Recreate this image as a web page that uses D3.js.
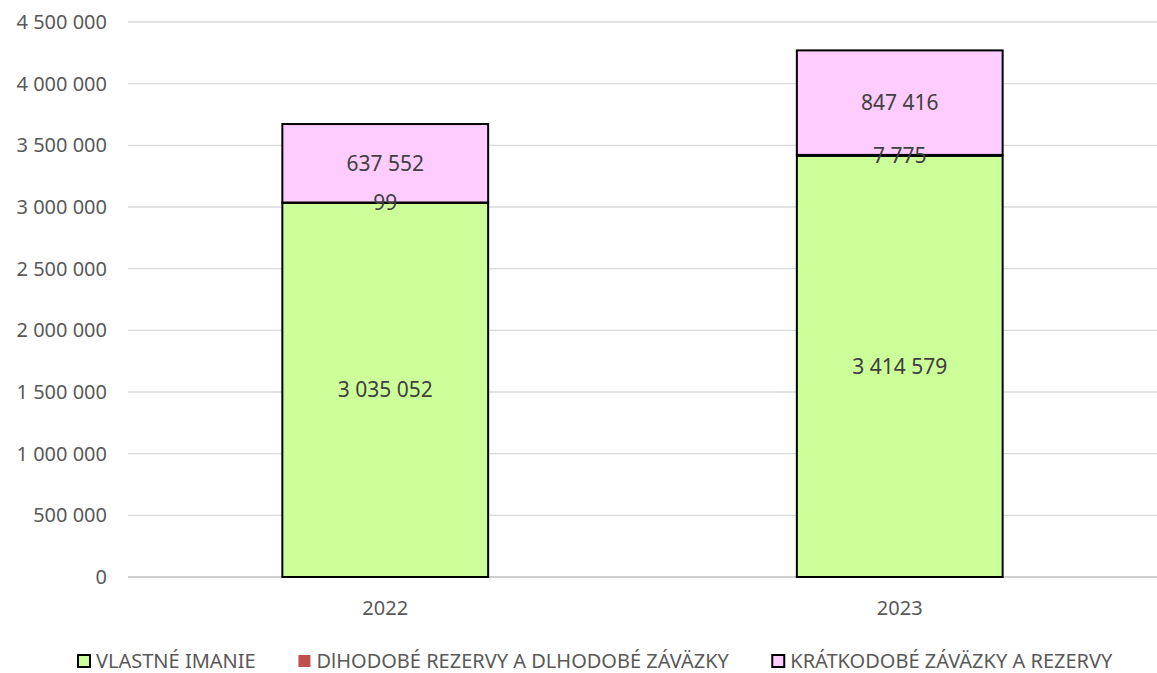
<!DOCTYPE html>
<html>
<head>
  <meta charset="utf-8">
  <style>
    body { margin: 0; background: #fff; }
    text { font-family: "Noto Sans", sans-serif; }
  </style>
</head>
<body>
  <script src="https://d3js.org/d3.v7.min.js"></script>
  <script>
    // Data
    var years = ["2022", "2023"];
    var seriesNames = ["VLASTNÉ IMANIE", "DlHODOBÉ REZERVY A DLHODOBÉ ZÁVÄZKY", "KRÁTKODOBÉ ZÁVÄZKY A REZERVY"];
    var equity = [3035052, 3414579];
    var longTerm = [99, 7775];
    var shortTerm = [637552, 847416];
    var yTicks = [0, 500000, 1000000, 1500000, 2000000, 2500000, 3000000, 3500000, 4000000, 4500000];

    var colors = ["#ccff99", "#c0504d", "#ffccff"];
    var strokes = ["#000", "none", "#000"];

    var W = 1157, H = 673;
    var margin = { top: 22, right: 0, bottom: 96, left: 128 };
    var width = W - margin.left - margin.right,
        height = H - margin.top - margin.bottom;

    var svg = d3.select("body").append("svg")
      .attr("width", W).attr("height", H);
    var g = svg.append("g")
      .attr("transform", "translate(" + margin.left + "," + margin.top + ")");

    var x = d3.scaleBand().domain(years).range([0, width]).paddingInner(0.6).paddingOuter(0.3);
    var y = d3.scaleLinear().domain([0, 4500000]).range([height, 0]);

    var fmt = function (v) { return d3.format(",")(v).replace(/,/g, " "); };

    // gridlines
    g.selectAll(".grid").data(yTicks).enter().append("line")
      .attr("x1", 0).attr("x2", width)
      .attr("y1", function (d) { return y(d); }).attr("y2", function (d) { return y(d); })
      .attr("stroke", function (d) { return d === 0 ? "#bfbfbf" : "#d9d9d9"; })
      .attr("stroke-width", 1.3);

    // y labels
    g.selectAll(".ylab").data(yTicks).enter().append("text")
      .attr("x", -21).attr("y", function (d) { return y(d); })
      .attr("dy", "0.35em").attr("text-anchor", "end")
      .attr("fill", "#595959").style("font-size", "20px")
      .text(fmt);

    // stacks
    var rows = years.map(function (yr, i) {
      return { year: yr, s0: equity[i], s1: longTerm[i], s2: shortTerm[i] };
    });
    var stack = d3.stack().keys(["s0", "s1", "s2"])(rows);

    stack.forEach(function (layer, li) {
      g.selectAll(".bar" + li).data(layer).enter().append("rect")
        .attr("x", function (d) { return x(d.data.year); })
        .attr("width", x.bandwidth())
        .attr("y", function (d) { return y(d[1]); })
        .attr("height", function (d) { return y(d[0]) - y(d[1]); })
        .attr("fill", colors[li])
        .attr("stroke", strokes[li])
        .attr("stroke-width", li === 1 ? 0 : 2);
    });
    // thin middle segment reads as a black edge
    g.selectAll(".bar1edge").data(stack[1]).enter().append("line")
      .attr("x1", function (d) { return x(d.data.year); })
      .attr("x2", function (d) { return x(d.data.year) + x.bandwidth(); })
      .attr("y1", function (d) { return y((d[0] + d[1]) / 2); })
      .attr("y2", function (d) { return y((d[0] + d[1]) / 2); })
      .attr("stroke", "#000").attr("stroke-width", 2);

    // data labels
    stack.forEach(function (layer) {
      g.selectAll(null).data(layer).enter().append("text")
        .attr("x", function (d) { return x(d.data.year) + x.bandwidth() / 2; })
        .attr("y", function (d) { return y((d[0] + d[1]) / 2); })
        .attr("dy", "0.35em").attr("text-anchor", "middle")
        .attr("fill", "#404040").style("font-size", "21px")
        .text(function (d) { return fmt(d[1] - d[0]); });
    });

    // x labels
    g.selectAll(".xlab").data(years).enter().append("text")
      .attr("x", function (d) { return x(d) + x.bandwidth() / 2; })
      .attr("y", height + 31).attr("dy", "0.35em").attr("text-anchor", "middle")
      .attr("fill", "#595959").style("font-size", "20px")
      .text(function (d) { return d; });

    // legend
    var leg = svg.append("g").attr("transform", "translate(0,661)");
    var items = leg.selectAll("g").data(seriesNames).enter().append("g");
    items.append("rect")
      .attr("width", 12).attr("height", 12).attr("y", -6).attr("x", 1)
      .attr("fill", function (d, i) { return colors[i]; })
      .attr("stroke", function (d, i) { return strokes[i]; })
      .attr("stroke-width", 2);
    items.append("text")
      .attr("x", 19).attr("dy", "0.35em")
      .attr("fill", "#595959").style("font-size", "20px")
      .text(function (d) { return d; });
    var widths = [];
    items.each(function () { widths.push(this.getBBox().width); });
    var sumW = d3.sum(widths);
    var span = 1112 - 77;
    var gap = Math.max(10, (span - sumW) / 2);
    var xpos = 77, offsets = [];
    widths.forEach(function (w) { offsets.push(xpos); xpos += w + gap; });
    items.attr("transform", function (d, i) { return "translate(" + offsets[i] + ",0)"; });
  </script>
</body>
</html>
